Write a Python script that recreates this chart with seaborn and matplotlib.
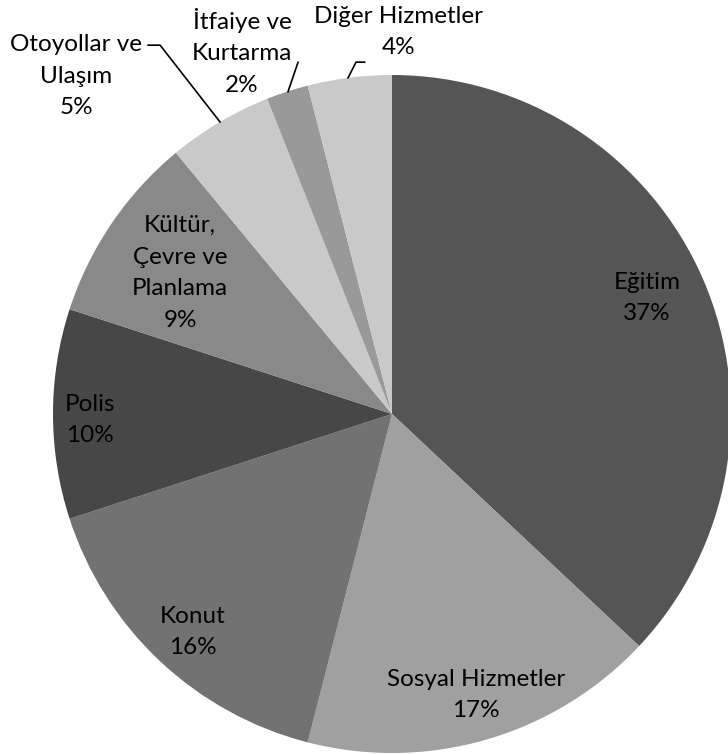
import matplotlib
matplotlib.use("Agg")
import matplotlib.pyplot as plt
import seaborn as sns

sns.set_theme(style="white")
plt.rcParams['font.family'] = ['Lato', 'DejaVu Sans']

categories = ["Eğitim", "Sosyal Hizmetler", "Konut", "Polis",
              "Kültür,\nÇevre ve\nPlanlama", "Otoyollar ve\nUlaşım",
              "İtfaiye ve\nKurtarma", "Diğer Hizmetler"]
values = [37, 17, 16, 10, 9, 5, 2, 4]
colors = ["#555555", "#a0a0a0", "#727272", "#474747",
          "#898989", "#c9c9c9", "#999999", "#c9c9c9"]

# label positions (data coords, pie radius = 1)
label_pos = [(0.752, 0.342), (0.248, -0.829), (-0.587, -0.643), (-0.891, -0.018),
             (-0.625, 0.416), (-0.932, 0.997), (-0.442, 1.068), (0.018, 1.127)]
leaders = {5: [(-0.72, 1.088), (-0.684, 1.088), (-0.507, 0.861)],
           6: [(-0.277, 1.038), (-0.307, 0.950)],
           7: [(-0.080, 1.038), (-0.106, 1.038), (-0.130, 0.991)]}

W, H = 728, 755
fig = plt.figure(figsize=(W / 100, H / 100), dpi=100)
cx, cy, r = 392, 414, 339
ax = fig.add_axes([(cx - r) / W, (H - cy - r) / H, 2 * r / W, 2 * r / H])
ax.pie(values, colors=colors, startangle=90, counterclock=False, radius=1,
       wedgeprops=dict(linewidth=0))
ax.set_xlim(-1, 1)
ax.set_ylim(-1, 1)
ax.set_aspect('auto')
ax.axis('off')

for i, (cat, v) in enumerate(zip(categories, values)):
    x, y = label_pos[i]
    ax.text(x, y, f"{cat}\n{v}%", ha='center', va='center', fontsize=17.5,
            color='black', linespacing=1.62, clip_on=False)
for pts in leaders.values():
    xs, ys = zip(*pts)
    ax.plot(xs, ys, color='black', lw=1.2, clip_on=False)

fig.savefig("out.png", dpi=100)
